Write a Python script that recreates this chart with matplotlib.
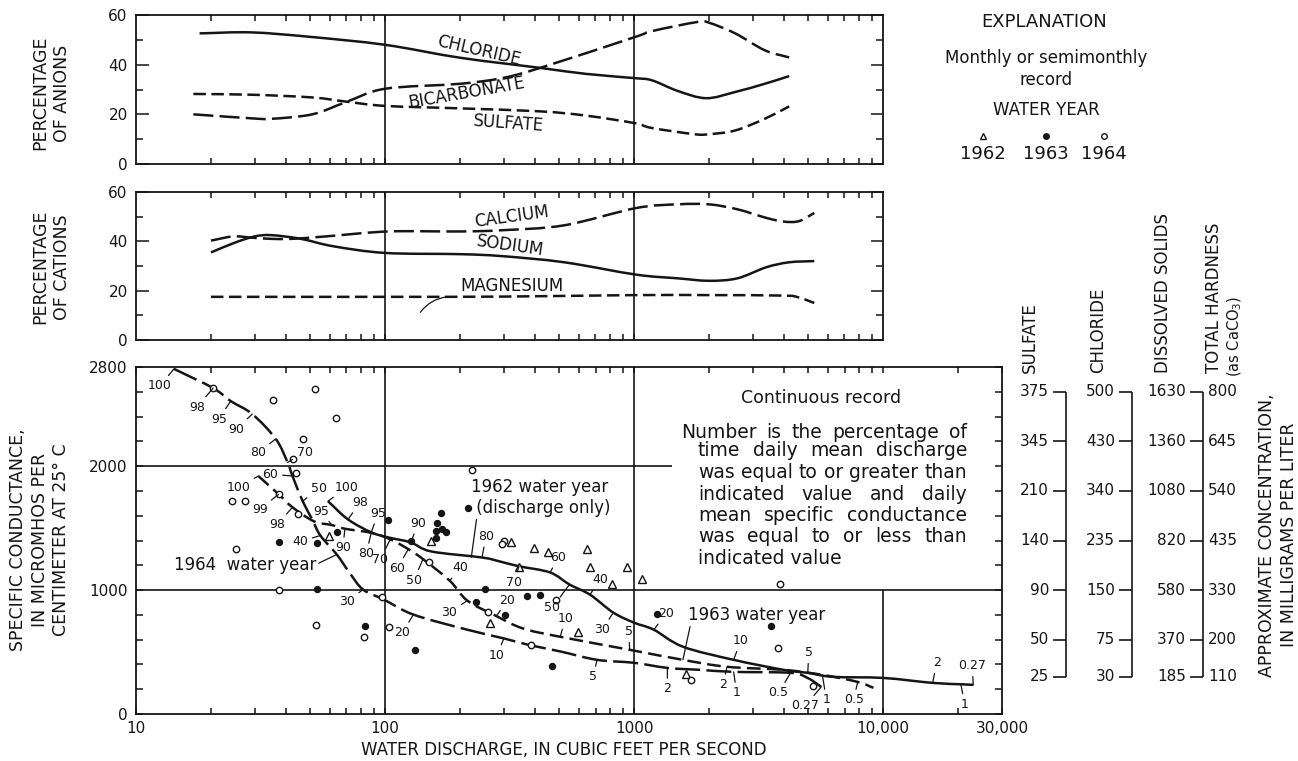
import numpy as np
import matplotlib
matplotlib.use("Agg")
import matplotlib.pyplot as plt
from matplotlib.lines import Line2D
from matplotlib.path import Path
from matplotlib.patches import PathPatch
from matplotlib.ticker import FixedLocator, LogLocator, NullFormatter

plt.rcParams['font.family'] = ['DejaVu Sans']
INK = '#151515'

# ---- anions, percent of total, against water discharge (cfs) ----
chloride_q = [18, 29, 50, 100, 200, 420, 640, 1000, 1180, 1500, 1950, 2550, 3350, 4200]
chloride_pct = [52.6, 53.0, 51.2, 48.0, 42.8, 38.7, 36.3, 34.6, 33.7, 29.4, 26.5, 29.0, 32.3, 35.4]
bicarb_q = [17, 29, 35, 51, 70, 100, 200, 295, 420, 1000, 1180, 1800, 2000, 2550, 3350, 4200]
bicarb_pct = [20.0, 18.4, 18.2, 20.0, 25.0, 30.3, 32.3, 34.6, 38.7, 51.0, 53.5, 57.2, 56.9, 52.6, 45.8, 42.9]
sulfate_q = [17, 29, 51, 70, 100, 200, 420, 640, 1000, 1180, 1750, 2000, 2550, 3350, 4200]
sulfate_pct = [28.2, 27.9, 26.8, 25.1, 23.4, 22.4, 21.2, 19.5, 16.5, 14.5, 12.0, 12.0, 13.5, 18.2, 23.2]

# ---- cations ----
calcium_q = [20, 24.6, 29, 35, 42, 58, 103, 200, 295, 525, 1020, 1500, 2000, 2600, 3400, 4000, 4600, 5300]
calcium_pct = [40.3, 42.0, 41.5, 41.0, 41.0, 42.0, 44.0, 44.0, 44.5, 46.5, 53.5, 55.0, 55.0, 53.0, 49.5, 48.0, 48.2, 51.5]
sodium_q = [20, 25, 30, 35, 46, 62, 100, 200, 295, 525, 1020, 1500, 2000, 2600, 3400, 4200, 5300]
sodium_pct = [35.5, 39.5, 42.0, 42.5, 41.0, 38.0, 35.3, 34.8, 34.0, 31.5, 26.5, 25.0, 24.0, 25.0, 29.5, 31.5, 32.0]
magnesium_q = [20, 100, 300, 1000, 2000, 4000, 4600, 5300]
magnesium_pct = [17.5, 17.5, 17.6, 18.2, 18.2, 18.0, 17.2, 15.0]

# ---- continuous record, specific conductance (micromhos) vs discharge ----
wy1964_q = [14.2, 20.4, 24.0, 29.3, 36.4, 40.6, 42.5, 46.7, 51, 55, 64, 72, 81.6, 99, 130, 214, 300,
            375, 505, 710, 1000, 1360, 1850, 2510, 4250, 4980, 5640]
wy1964_sc = [2785, 2630, 2525, 2420, 2220, 2030, 1920, 1717, 1570, 1440, 1287, 1140, 1004, 923, 802, 680, 610,
             559, 505, 437, 413, 372, 356, 340, 332, 290, 219]
wy1963_q = [31, 37.4, 42.5, 51.8, 61, 69, 88, 105, 124, 142, 182, 214, 280, 358, 505, 960, 1570, 2360,
            3990, 5700, 7900, 9140]
wy1963_sc = [1920, 1773, 1668, 1555, 1525, 1495, 1462, 1410, 1330, 1250, 1075, 915, 790, 690, 623, 518, 437, 381,
             356, 316, 259, 211]
wy1962_q = [59, 71, 88, 103, 127, 153, 245, 290, 345, 460, 550, 665, 825, 1000, 1200, 1570, 2510, 3990,
            4980, 6270, 10000, 15800, 20500, 23000]
wy1962_sc = [1717, 1570, 1466, 1425, 1384, 1312, 1263, 1230, 1192, 1142, 1045, 963, 818, 737, 680, 543, 437, 356,
             332, 300, 291, 251, 240, 235]

# duration percentages marked along each curve
dur1964_lab = ['100', '98', '95', '90', '80', '70', '60', '50', '40', '30', '20', '10', '5', '2', '1', '0.5', '0.27']
dur1964_q = [14.2, 20.4, 24.0, 29.3, 36.4, 40.6, 42.5, 46.7, 55, 81.6, 130, 300, 710, 1360, 2510, 4250, 5640]
dur1964_sc = [2785, 2630, 2525, 2420, 2220, 2030, 1920, 1717, 1440, 1004, 802, 610, 437, 372, 340, 332, 219]
dur1963_lab = ['100', '99', '98', '95', '90', '80', '70', '60', '50', '40', '30', '20', '10', '5', '2', '1', '0.5']
dur1963_q = [31, 37.4, 42.5, 61, 69, 88, 105, 124, 142, 182, 214, 280, 505, 960, 2360, 5700, 7900]
dur1963_sc = [1920, 1773, 1668, 1525, 1495, 1462, 1410, 1330, 1250, 1075, 915, 790, 623, 518, 381, 316, 259]
dur1962_lab = ['100', '98', '95', '90', '80', '70', '60', '50', '40', '30', '20', '10', '5', '2', '0.27', '1']
dur1962_q = [59, 71, 88, 127, 245, 345, 460, 550, 665, 825, 1200, 2510, 4980, 15800, 23000, 20500]
dur1962_sc = [1717, 1570, 1466, 1384, 1263, 1192, 1142, 1045, 963, 818, 680, 437, 332, 251, 235, 240]

# monthly / semimonthly samples
tri1962_q = [59.4, 153, 320, 398, 452, 265, 346, 645, 664, 935, 1080, 815, 596, 1620]
tri1962_sc = [1433, 1393, 1390, 1340, 1308, 737, 1186, 1328, 1190, 1190, 1093, 1045, 664, 324]
dot1963_q = [37.4, 53.5, 64, 103, 127, 168, 162, 160, 170, 176, 160, 216, 53.5, 83, 132, 231, 253, 303,
             372, 420, 468, 1230, 3540]
dot1963_sc = [1385, 1377, 1466, 1563, 1400, 1620, 1538, 1474, 1490, 1466, 1417, 1660, 1012, 713, 518, 907, 1012, 802,
              955, 963, 389, 810, 713]
circ1964_q = [20.4, 35.4, 52.2, 63.4, 46.7, 42.5, 43.9, 37.4, 24.2, 27.3, 44.6, 224, 25.1, 37.4, 53, 82,
              97.4, 104, 150, 259, 384, 300, 296, 484, 3850, 3770, 1690, 5240]
circ1964_sc = [2630, 2535, 2625, 2390, 2220, 2055, 1945, 1773, 1717, 1717, 1611, 1968, 1328, 1004, 720, 623,
               947, 704, 1223, 826, 559, 1400, 1372, 923, 1045, 534, 275, 227]

# conductance levels of the concentration scales and their mg/L values
conc_sc = [2600, 2200, 1800, 1400, 1000, 600, 300]
sulfate_mgl = [375, 345, 210, 140, 90, 50, 25]
chloride_mgl = [500, 430, 340, 235, 150, 75, 30]
solids_mgl = [1630, 1360, 1080, 820, 580, 370, 185]
hardness_mgl = [800, 645, 540, 435, 330, 200, 110]

W, H = 1298, 761
fig = plt.figure(figsize=(W / 100, H / 100), dpi=100)


def fx(px):
    return px / W


def fy(py):
    return 1 - py / H


def box(x0, y0, x1, y1):
    return [fx(x0), fy(y1), (x1 - x0) / W, (y1 - y0) / H]


def frame(ax, xmax):
    ax.set_xscale('log')
    ax.set_xlim(10, xmax)
    ax.xaxis.set_minor_locator(LogLocator(base=10, subs=np.arange(2, 10), numticks=20))
    ax.xaxis.set_minor_formatter(NullFormatter())
    for s in ax.spines.values():
        s.set_linewidth(1.3)
        s.set_color(INK)
    ax.tick_params(which='both', direction='in', top=True, right=True, color=INK,
                   width=1.1, labelsize=11, labelcolor=INK)
    ax.tick_params(axis='x', which='both', length=4.5)


def smooth_curve(ax, q, v, **kw):
    # Catmull-Rom through the read points, worked out in log10(Q) so the
    # Bezier pieces land correctly on the log axis
    lx = np.log10(np.asarray(q, float))
    y = np.asarray(v, float)
    p = np.column_stack([lx, y])
    ext = np.vstack([2 * p[0] - p[1], p, 2 * p[-1] - p[-2]])
    verts = [p[0]]
    codes = [Path.MOVETO]
    for i in range(1, len(ext) - 2):
        c1 = ext[i] + (ext[i + 1] - ext[i - 1]) / 6
        c2 = ext[i + 1] - (ext[i + 2] - ext[i]) / 6
        verts += [c1, c2, ext[i + 1]]
        codes += [Path.CURVE4] * 3
    verts = np.array(verts)
    verts[:, 0] = 10 ** verts[:, 0]
    ax.add_patch(PathPatch(Path(verts, codes), fill=False, ec=INK, capstyle='butt', **kw))


ax_an = fig.add_axes(box(136, 15, 883, 164))
ax_cat = fig.add_axes(box(136, 192, 883, 340))
ax_sc = fig.add_axes(box(136, 367, 1002, 714))

for ax in (ax_an, ax_cat):
    frame(ax, 10000)
    ax.set_ylim(0, 60)
    ax.yaxis.set_major_locator(FixedLocator([0, 20, 40, 60]))
    ax.yaxis.set_minor_locator(FixedLocator([10, 30, 50]))
    ax.xaxis.set_major_locator(FixedLocator([100, 1000]))
    ax.xaxis.set_major_formatter(NullFormatter())
    ax.tick_params(axis='y', which='major', length=9, pad=6)
    ax.tick_params(axis='y', which='minor', length=5)
    for q in (100, 1000):
        ax.axvline(q, color=INK, lw=1.2)

LW = 1.8
smooth_curve(ax_an, chloride_q, chloride_pct, lw=LW)
smooth_curve(ax_an, bicarb_q, bicarb_pct, lw=LW, ls=(0, (8, 2.5)))
smooth_curve(ax_an, sulfate_q, sulfate_pct, lw=LW, ls=(0, (5, 2.2)))
ax_an.text(239, 45.6, 'CHLORIDE', rotation=-13, ha='center', va='center', fontsize=12, color=INK)
ax_an.text(212, 28.6, 'BICARBONATE', rotation=10, ha='center', va='center', fontsize=12, color=INK)
ax_an.text(312, 16.3, 'SULFATE', rotation=-4, ha='center', va='center', fontsize=12, color=INK)

smooth_curve(ax_cat, calcium_q, calcium_pct, lw=LW, ls=(0, (8, 2.5)))
smooth_curve(ax_cat, sodium_q, sodium_pct, lw=LW)
smooth_curve(ax_cat, magnesium_q, magnesium_pct, lw=LW, ls=(0, (5, 2.2)))
ax_cat.text(324, 49.8, 'CALCIUM', rotation=8, ha='center', va='center', fontsize=12, color=INK)
ax_cat.text(318, 38.3, 'SODIUM', rotation=-8, ha='center', va='center', fontsize=12, color=INK)
ax_cat.text(324, 22.0, 'MAGNESIUM', ha='center', va='center', fontsize=12, color=INK)
ax_cat.annotate('', xy=(182, 17.6), xytext=(-31, -18), textcoords='offset pixels',
                arrowprops=dict(arrowstyle='-', lw=0.9, color=INK, connectionstyle='arc3,rad=-0.25'))

# ---- specific conductance panel ----
frame(ax_sc, 30000)
ax_sc.set_ylim(0, 2800)
ax_sc.xaxis.set_major_locator(FixedLocator([10, 100, 1000, 10000, 30000]))
ax_sc.set_xticklabels(['10', '100', '1000', '10,000', '30,000'])
ax_sc.tick_params(axis='x', which='major', pad=5)
ax_sc.yaxis.set_major_locator(FixedLocator([0, 1000, 2000, 2800]))
ax_sc.yaxis.set_minor_locator(FixedLocator(np.arange(200, 2800, 200)))
ax_sc.tick_params(axis='y', which='both', length=5, pad=6)
ax_sc.axvline(100, color=INK, lw=1.2)
ax_sc.axvline(1000, color=INK, lw=1.2)
ax_sc.vlines(10000, 0, 1000, color=INK, lw=1.2)
ax_sc.hlines(1000, 10, 30000, color=INK, lw=1.2)
ax_sc.hlines(2000, 10, 1420, color=INK, lw=1.2)

smooth_curve(ax_sc, wy1964_q, wy1964_sc, lw=LW, ls=(0, (10, 2.5)))
smooth_curve(ax_sc, wy1963_q, wy1963_sc, lw=LW, ls=(0, (5.5, 2.5)))
smooth_curve(ax_sc, wy1962_q, wy1962_sc, lw=LW)

ax_sc.plot(tri1962_q, tri1962_sc, ls='none', marker='^', ms=5.5, mfc='white', mec=INK, mew=1.0)
ax_sc.plot(dot1963_q, dot1963_sc, ls='none', marker='o', ms=4.3, mfc=INK, mec=INK)
ax_sc.plot(circ1964_q, circ1964_sc, ls='none', marker='o', ms=4.6, mfc='white', mec=INK, mew=1.0)

off1964 = [(-14, 17), (-16, 19), (-12, 18), (-16, 15), (-18, 14), (17, -10), (-22, -2), (16, -13), (-20, 6),
           (-16, 12), (-11, 18), (-7, 17), (-4, 17), (0, 21), (3, 21), (-12, 20), (-16, 19)]
off1963 = [(-20, 11), (-19, 15), (-15, 17), (-10, -14), (-2, 19), (-5, 21), (-10, 20), (-11, 19), (-9, 21),
           (10, -13), (-18, 12), (11, -16), (5, -18), (-1, -18), (-4, 18), (4, 25), (-4, 18)]
off1962 = [(19, -14), (12, -17), (7, -19), (7, -19), (4, -21), (-5, 16), (8, -15), (-17, 23), (10, -15),
           (-11, 17), (12, -16), (7, -19), (1, -20), (4, -20), (-1, -19), (4, 20)]


def duration_marks(labels, qs, scs, offsets):
    for lab, q, sc, (dx, dy) in zip(labels, qs, scs, offsets):
        ax_sc.annotate(lab, xy=(q, sc), xytext=(dx, -dy), textcoords='offset pixels',
                       ha='center', va='center', fontsize=9, color=INK,
                       arrowprops=dict(arrowstyle='-', lw=0.9, color=INK, shrinkA=1, shrinkB=0))


duration_marks(dur1964_lab, dur1964_q, dur1964_sc, off1964)
duration_marks(dur1963_lab, dur1963_q, dur1963_sc, off1963)
duration_marks(dur1962_lab, dur1962_q, dur1962_sc, off1962)

lead = dict(arrowstyle='-', lw=0.9, color=INK, shrinkA=0, shrinkB=0)
ax_sc.annotate('1964  water year', xy=(64, 1287), xytext=(-92, -10), textcoords='offset pixels',
               ha='center', va='center', fontsize=12, color=INK,
               arrowprops=dict(lead, relpos=(1.0, 0.5)))
ax_sc.annotate('1962 water year\n (discharge only)', xy=(222, 1265), xytext=(0, 60),
               textcoords='offset pixels', ha='left', va='center', fontsize=12, color=INK,
               linespacing=1.2, arrowprops=dict(lead, relpos=(0.04, 0.0)))
ax_sc.annotate('1963 water year', xy=(1570, 437), xytext=(5, 45), textcoords='offset pixels',
               ha='left', va='center', fontsize=12, color=INK,
               arrowprops=dict(lead, relpos=(0.02, 0.0)))

# explanatory note inside the lower panel
fig.text(fx(821), fy(398), 'Continuous record', ha='center', va='center', fontsize=12.5, color=INK)
renderer = fig.canvas.get_renderer()


def justified(line, x0, x1, y, size=13.5):
    words = line.split()
    objs = [fig.text(0, fy(y), w, fontsize=size, ha='left', va='center', color=INK) for w in words]
    widths = [o.get_window_extent(renderer).width for o in objs]
    gap = (x1 - x0 - sum(widths)) / (len(words) - 1)
    x = x0
    for o, w in zip(objs, widths):
        o.set_x(fx(x))
        x += w + gap


justified('Number is the percentage of', 681, 967, 432)
for k, line in enumerate(['time daily mean discharge', 'was equal to or greater than',
                          'indicated value and daily', 'mean specific conductance',
                          'was equal to or less than']):
    justified(line, 698, 967, 451 + 21.5 * k)
fig.text(fx(698), fy(559), 'indicated value', ha='left', va='center', fontsize=13.5, color=INK)

# explanation block
fig.text(fx(1044), fy(22), 'EXPLANATION', ha='center', va='center', fontsize=13, color=INK)
fig.text(fx(1046), fy(58), 'Monthly or semimonthly', ha='center', va='center', fontsize=12, color=INK)
fig.text(fx(1046), fy(80), 'record', ha='center', va='center', fontsize=12, color=INK)
fig.text(fx(1046), fy(110), 'WATER YEAR', ha='center', va='center', fontsize=12, color=INK)
for xp, mk, face, yr in ((983, '^', 'white', '1962'), (1046, 'o', INK, '1963'), (1104, 'o', 'white', '1964')):
    fig.add_artist(Line2D([fx(xp)], [fy(136)], transform=fig.transFigure, ls='none', marker=mk,
                          ms=5 if mk == '^' else 4.0, mfc=face, mec=INK, mew=1.0))
    fig.text(fx(xp), fy(154), yr, ha='center', va='center', fontsize=13, color=INK)

# concentration scales keyed to specific conductance
ax_conc = fig.add_axes(box(1002, 367, 1298, 714))
ax_conc.set_xlim(1002, 1298)
ax_conc.set_ylim(0, 2800)
ax_conc.axis('off')
for vals, xl in ((sulfate_mgl, 1066), (chloride_mgl, 1132), (solids_mgl, 1203)):
    ax_conc.vlines(xl, conc_sc[-1], conc_sc[0], color=INK, lw=1.2)
    ax_conc.hlines(conc_sc, xl - 13, xl, color=INK, lw=1.2)
    for v, s in zip(vals, conc_sc):
        ax_conc.text(xl - 17, s, str(v), ha='right', va='center', fontsize=11, color=INK)
for v, s in zip(hardness_mgl, conc_sc):
    ax_conc.text(1208, s, str(v), ha='left', va='center', fontsize=11, color=INK)

for xp, name in ((1030, 'SULFATE'), (1098, 'CHLORIDE'), (1163, 'DISSOLVED SOLIDS'), (1214, 'TOTAL HARDNESS')):
    fig.text(fx(xp), fy(373), name, rotation=90, ha='center', va='bottom', fontsize=12, color=INK)
fig.text(fx(1235), fy(377), '(as CaCO$_3$)', rotation=90, ha='center', va='bottom', fontsize=10.5, color=INK)
fig.text(fx(1278), fy(535), 'APPROXIMATE CONCENTRATION,\nIN MILLIGRAMS PER LITER', rotation=90,
         ha='center', va='center', fontsize=12.5, linespacing=1.25, multialignment='center', color=INK)

# axis titles
fig.text(fx(51), fy(93), 'PERCENTAGE\nOF ANIONS', rotation=90, ha='center', va='center',
         fontsize=12.5, linespacing=1.25, multialignment='center', color=INK)
fig.text(fx(51), fy(267), 'PERCENTAGE\nOF CATIONS', rotation=90, ha='center', va='center',
         fontsize=12.5, linespacing=1.25, multialignment='center', color=INK)
fig.text(fx(40), fy(540), 'SPECIFIC CONDUCTANCE,\nIN MICROMHOS PER\nCENTIMETER AT 25° C', rotation=90,
         ha='center', va='center', fontsize=12.5, linespacing=1.25, multialignment='center', color=INK)
fig.text(fx(564), fy(750), 'WATER DISCHARGE, IN CUBIC FEET PER SECOND', ha='center', va='center',
         fontsize=12, color=INK)

fig.savefig('out.png', dpi=100)
